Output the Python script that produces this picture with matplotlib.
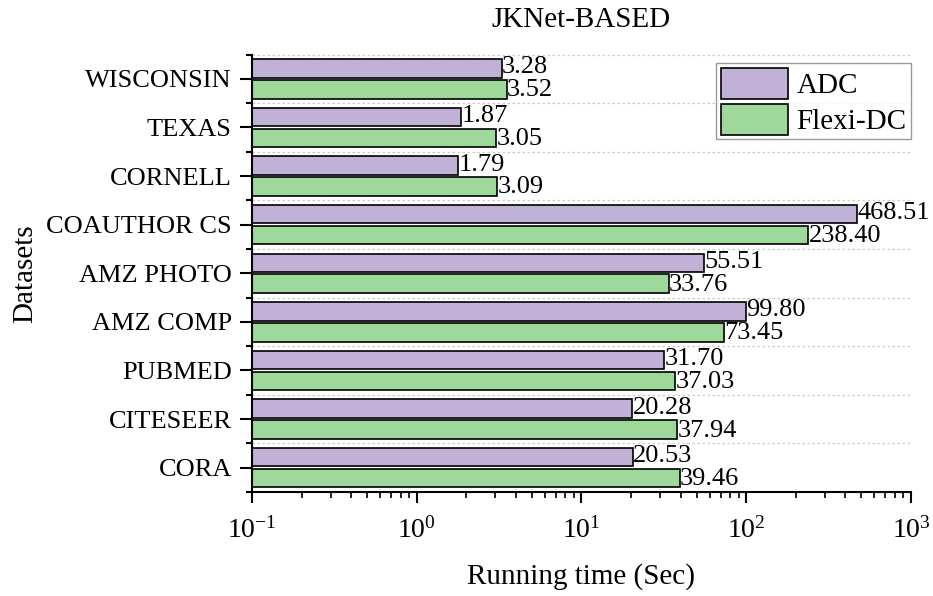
import numpy as np
import matplotlib
matplotlib.use("Agg")
import matplotlib.pyplot as plt
from matplotlib.ticker import LogLocator, FixedLocator, NullFormatter

plt.rcParams["font.family"] = ["Liberation Serif", "DejaVu Serif"]
plt.rcParams["mathtext.fontset"] = "custom"
plt.rcParams["mathtext.rm"] = "Liberation Serif"
plt.rcParams["mathtext.it"] = "Liberation Serif:italic"
plt.rcParams["mathtext.bf"] = "Liberation Serif:bold"
plt.rcParams["axes.unicode_minus"] = False

# Datasets listed bottom-to-top
datasets = ["CORA", "CITESEER", "PUBMED", "AMZ COMP", "AMZ PHOTO",
            "COAUTHOR CS", "CORNELL", "TEXAS", "WISCONSIN"]
adc = [20.53, 20.28, 31.70, 99.80, 55.51, 468.51, 1.79, 1.87, 3.28]
flexi_dc = [39.46, 37.94, 37.03, 73.45, 33.76, 238.40, 3.09, 3.05, 3.52]
series_names = ["ADC", "Flexi-DC"]
title = "JKNet-BASED"
xlabel = "Running time (Sec)"
ylabel = "Datasets"

c_adc = "#c1b1d7"
c_flexi = "#9fd89b"

fig = plt.figure(figsize=(9.33, 5.96), dpi=100)
ax = fig.add_axes([0.270, 0.1745, 0.7064, 0.734])

y = np.arange(len(datasets))
h = 0.38
off = 0.215
base = 0.1

ax.set_xscale("log")
ax.barh(y + off, np.array(adc) - base, left=base, height=h,
        color=c_adc, edgecolor="black", linewidth=1.2, label=series_names[0])
ax.barh(y - off, np.array(flexi_dc) - base, left=base, height=h,
        color=c_flexi, edgecolor="black", linewidth=1.2, label=series_names[1])

# value annotations at the end of each bar
for yy, v in zip(y + off, adc):
    ax.text(v * 1.005, yy + 0.02, f"{v:.2f}", va="center", ha="left",
            fontsize=19, clip_on=False)
for yy, v in zip(y - off, flexi_dc):
    ax.text(v * 1.005, yy - 0.02, f"{v:.2f}", va="center", ha="left",
            fontsize=19, clip_on=False)

ax.set_xlim(0.1, 1000)
ax.set_ylim(-0.5, len(datasets) - 0.5)

ax.set_yticks(y)
ax.set_yticklabels(datasets, fontsize=19)
ax.yaxis.set_minor_locator(FixedLocator(np.arange(-0.5, len(datasets), 1.0)))
ax.xaxis.set_major_locator(LogLocator(base=10, numticks=10))
ax.xaxis.set_minor_locator(LogLocator(base=10, subs=np.arange(2, 10), numticks=20))
ax.xaxis.set_minor_formatter(NullFormatter())

ax.tick_params(axis="y", which="major", length=8.5, width=1.5, pad=6, direction="out")
ax.tick_params(axis="y", which="minor", length=4.5, width=1.5, direction="out")
ax.tick_params(axis="x", which="major", length=8, width=1.5, pad=10, labelsize=20, direction="out")
ax.tick_params(axis="x", which="minor", length=4, width=1.2, direction="out")

for s in ["top", "right"]:
    ax.spines[s].set_visible(False)
for s in ["left", "bottom"]:
    ax.spines[s].set_linewidth(1.5)

ax.grid(True, axis="y", which="minor", color="#cccccc", linestyle=(0, (2, 2)), linewidth=0.9)
ax.set_axisbelow(True)

ax.set_title(title, fontsize=21, pad=20)
ax.set_xlabel(xlabel, fontsize=21, labelpad=14)
ax.set_ylabel(ylabel, fontsize=21, labelpad=6)

leg = ax.legend(loc="upper right", bbox_to_anchor=(1.0, 0.98), fontsize=21,
                frameon=True, fancybox=False, edgecolor="#808080",
                handlelength=2.3, handleheight=1.25, handletextpad=0.3,
                borderpad=0.15, labelspacing=0.17, borderaxespad=0.0)
leg.get_frame().set_linewidth(1.0)

fig.savefig("out.png", dpi=100)
